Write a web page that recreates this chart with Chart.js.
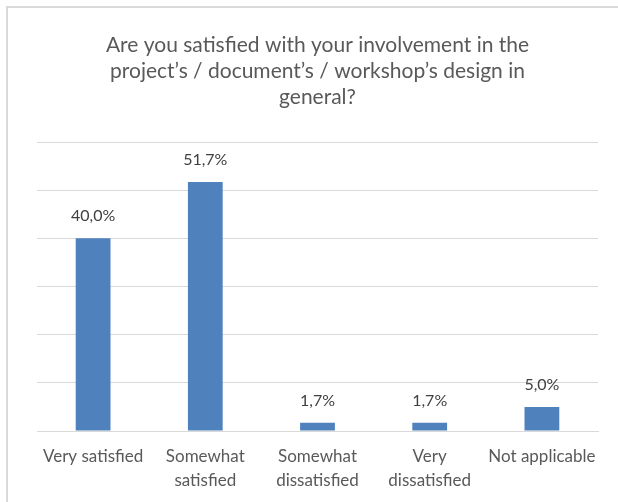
<!DOCTYPE html>
<html>
<head>
<meta charset="utf-8">
<script src="https://cdn.jsdelivr.net/npm/chart.js@4"></script>
<style>
	body { margin: 0; background: #fff; }
	#wrap { position: relative; width: 618px; height: 502px; overflow: hidden; }
	#frame { position: absolute; left: 6px; top: 6px; width: 640px; height: 520px;
		border: 2px solid #d9d9d9; pointer-events: none; box-sizing: border-box; }
</style>
</head>
<body>
<div id="wrap">
	<canvas id="chart_design" width="618" height="502"></canvas>
	<div id="frame"></div>
</div>
<script>
// Chart values
var title_lines = [
	'Are you satisfied with your involvement in the',
	'project\u2019s / document\u2019s / workshop\u2019s design in',
	'general?'
];
var categories = [
	'Very satisfied',
	['Somewhat', 'satisfied'],
	['Somewhat', 'dissatisfied'],
	['Very', 'dissatisfied'],
	'Not applicable'
];
var percents = [40.0, 51.7, 1.7, 1.7, 5.0];
var y_ticks = [0, 10, 20, 30, 40, 50, 60];

function formatPercent( v ) {
	return v.toFixed(1).replace('.', ',') + '%';
}

// draws the value above each bar
var barLabels = {
	id: 'barLabels',
	afterDatasetsDraw: function( chart ) {
		var ctx = chart.ctx;
		var meta = chart.getDatasetMeta(0);
		ctx.save();
		ctx.font = '16px Lato';
		ctx.fillStyle = '#404040';
		ctx.textAlign = 'center';
		ctx.textBaseline = 'middle';
		meta.data.forEach( function( bar, i ) {
			ctx.fillText( formatPercent( percents[i] ), bar.x, bar.y - 22 );
		});
		ctx.restore();
	}
};

var ctx = document.getElementById('chart_design').getContext('2d');
var chart_design = new Chart(ctx, {
	type: 'bar',
	data: {
		labels: categories,
		datasets: [{
			data: percents,
			backgroundColor: '#4f81bd',
			borderWidth: 0,
			categoryPercentage: 1,
			barPercentage: 0.31
		}]
	},
	options: {
		responsive: false,
		animation: false,
		layout: {
			padding: { left: 37, right: 20, top: 0, bottom: -5 }
		},
		plugins: {
			legend: { display: false },
			tooltip: { enabled: false },
			title: {
				display: true,
				text: title_lines,
				color: '#595959',
				font: { family: 'Lato', size: 21, weight: 'normal', lineHeight: '26px' },
				padding: { top: 32, bottom: 32 }
			}
		},
		scales: {
			x: {
				grid: { display: false, drawTicks: false },
				border: { display: true, color: '#d9d9d9', width: 1 },
				ticks: {
					color: '#595959',
					font: { family: 'Lato', size: 17, lineHeight: '24px' },
					padding: 14,
					autoSkip: false,
					maxRotation: 0,
					minRotation: 0
				}
			},
			y: {
				min: y_ticks[0],
				max: y_ticks[y_ticks.length - 1],
				afterBuildTicks: function( axis ) {
					axis.ticks = y_ticks.map( function( v ) { return { value: v }; } );
				},
				grid: { color: '#d9d9d9', lineWidth: 1, drawTicks: false },
				border: { display: false },
				ticks: { display: false }
			}
		}
	},
	plugins: [barLabels]
});
</script>
</body>
</html>
